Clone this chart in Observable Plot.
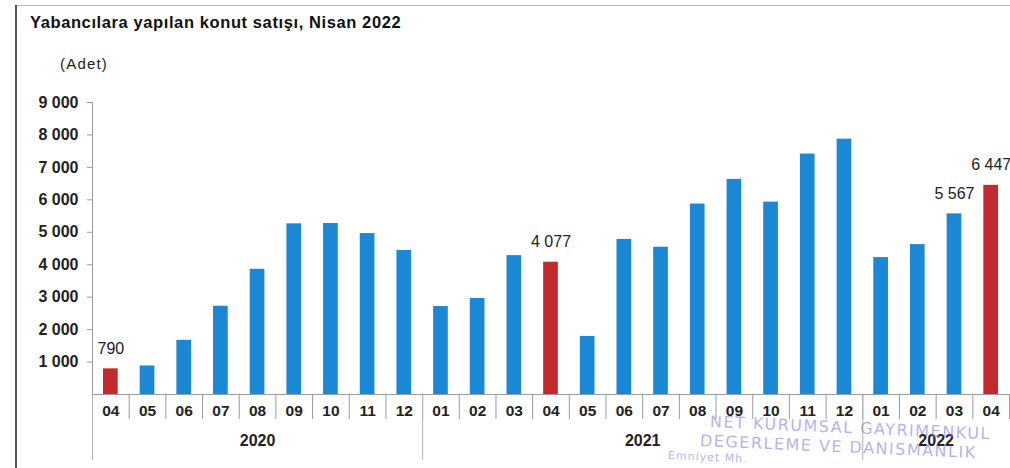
<!DOCTYPE html>
<html>
<head>
<meta charset="utf-8">
<script src="https://cdn.jsdelivr.net/npm/d3@7"></script>
<script src="https://cdn.jsdelivr.net/npm/@observablehq/plot@0.6"></script>
<style>
  html, body { margin: 0; padding: 0; background: #fff; }
  #wrap { position: relative; width: 1010px; height: 468px; overflow: hidden; font-family: "Liberation Sans", Arial, sans-serif; background: #fff; }
  #chart { position: absolute; left: 0; top: 0; }
  #title { position: absolute; left: 30px; top: 14px; font-size: 16.5px; letter-spacing: 0.6px; line-height: 1; font-weight: bold; color: #111; white-space: nowrap; }
  #unit { position: absolute; left: 60px; top: 56px; font-size: 15px; letter-spacing: 1.2px; line-height: 1; color: #222; }
  #bl { position: absolute; left: 15px; top: 5px; width: 2px; height: 463px; background: #555; }
  #bt { position: absolute; left: 15px; top: 5px; width: 995px; height: 1px; background: #bbb; }
  .stamp { position: absolute; white-space: nowrap; color: rgba(120, 110, 220, 0.55); font-family: "DejaVu Sans", sans-serif; transform-origin: left center; transform: rotate(2.5deg); line-height: 1; }
</style>
</head>
<body>
<div id="wrap">
  <div id="bt"></div>
  <div id="bl"></div>
  <div id="title">Yabancılara yapılan konut satışı, Nisan 2022</div>
  <div id="unit">(Adet)</div>
  <div id="chart"></div>
  <div class="stamp" style="left:710px; top:414px; font-size:16px; letter-spacing:1.5px;">NET KURUMSAL GAYRIMENKUL</div>
  <div class="stamp" style="left:700px; top:433px; font-size:16px; letter-spacing:1.5px;">DEGERLEME VE DANISMANLIK</div>
  <div class="stamp" style="left:668px; top:450px; font-size:11px; letter-spacing:1px;">Emniyet Mh.</div>
</div>
<script>
const months = ["04","05","06","07","08","09","10","11","12","01","02","03","04","05","06","07","08","09","10","11","12","01","02","03","04"];
const years  = ["2020","2020","2020","2020","2020","2020","2020","2020","2020","2021","2021","2021","2021","2021","2021","2021","2021","2021","2021","2021","2021","2022","2022","2022","2022"];
const values = [790, 880, 1670, 2720, 3860, 5260, 5270, 4960, 4440, 2710, 2960, 4280, 4077, 1790, 4780, 4540, 5870, 6630, 5930, 7410, 7870, 4220, 4620, 5567, 6447];
const labeledPeriods = ["2020-04", "2021-04", "2022-03", "2022-04"];
const highlightMonth = "04";
const yTicks = [1000, 2000, 3000, 4000, 5000, 6000, 7000, 8000, 9000];

const blue = "#1b88d5";
const red = "#c22a2e";
const fmt = v => d3.format(",")(v).replace(/,/g, " ");

const rows = months.map((m, i) => ({
  i, month: m, year: years[i], value: values[i],
  period: years[i] + "-" + m,
  hl: m === highlightMonth
}));
const labeled = rows.filter(d => labeledPeriods.includes(d.period));

// year groups
const yearNames = Array.from(new Set(years));
const yearGroups = yearNames.map(y => {
  const idx = rows.filter(d => d.year === y).map(d => d.i);
  return {year: y, start: d3.min(idx), end: d3.max(idx) + 1};
});
const edges = d3.range(0, months.length + 1);
const groupEdges = yearGroups.map(g => g.start);

const chart = Plot.plot({
  width: 1010,
  height: 468,
  marginLeft: 92,
  marginRight: 1,
  marginTop: 102,
  marginBottom: 74,
  style: {fontFamily: "'Liberation Sans', Arial, sans-serif", background: "transparent", overflow: "visible"},
  x: {domain: [0, months.length], axis: null},
  y: {domain: [0, 9000], axis: null},
  color: {domain: [false, true], range: [blue, red]},
  marks: [
    Plot.rectY(rows, {x1: d => d.i + 0.3, x2: d => d.i + 0.7, y1: 0, y2: "value", fill: "hl"}),
    Plot.ruleX(edges, {x: d => d, y1: 0, y2: 0, insetBottom: -25, stroke: "#9a9a9a"}),
    Plot.ruleX(groupEdges, {x: d => d, y1: 0, y2: 0, insetBottom: -66, stroke: "#b5b5b5"}),
    Plot.ruleY([0], {stroke: "#9a9a9a"}),
    Plot.ruleX([0], {y1: 0, y2: 9000, stroke: "#9a9a9a"}),
    Plot.ruleY(yTicks, {x1: 0, x2: 0, insetLeft: -5, stroke: "#9a9a9a"}),
    Plot.text(yTicks, {y: d => d, frameAnchor: "left", dx: -14, textAnchor: "end", text: d => fmt(d), fontSize: 16, fontWeight: "bold", fill: "#222"}),
    Plot.text(rows, {x: d => d.i + 0.5, y: 0, dy: 17, text: "month", fontSize: 15.5, fontWeight: "bold", fill: "#222"}),
    Plot.text(yearGroups, {x: d => (d.start + d.end) / 2, y: 0, dy: 46, text: "year", fontSize: 16, fontWeight: "bold", fill: "#222"}),
    Plot.text(labeled, {x: d => d.i + 0.5, y: "value", dy: -20, text: d => fmt(d.value), fontSize: 16, fill: "#222"})
  ]
});
document.getElementById("chart").appendChild(chart);
</script>
</body>
</html>
